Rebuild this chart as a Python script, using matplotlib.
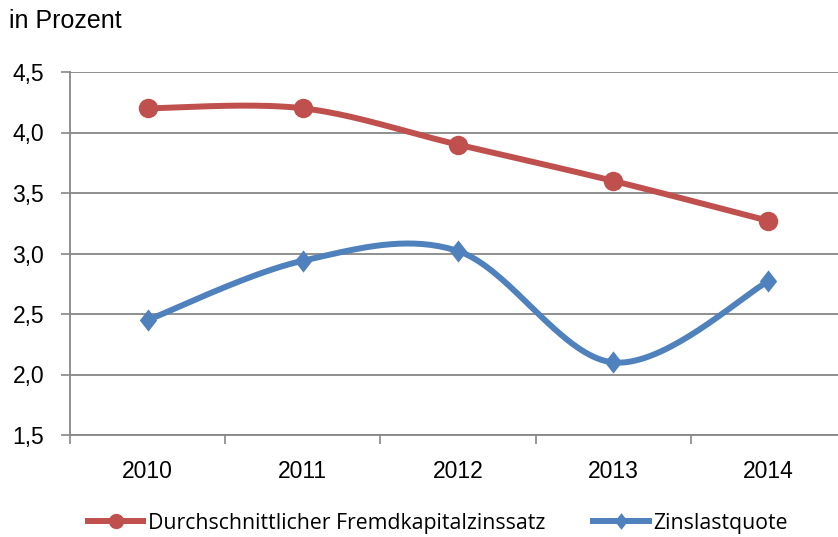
import numpy as np
import matplotlib
matplotlib.use("Agg")
import matplotlib.pyplot as plt
from matplotlib.lines import Line2D
from matplotlib.path import Path

years = ["2010", "2011", "2012", "2013", "2014"]
fremdkapital = [4.2, 4.2, 3.9, 3.6, 3.27]
zinslast = [2.45, 2.94, 3.02, 2.10, 2.77]
y_ticks = [1.5, 2.0, 2.5, 3.0, 3.5, 4.0, 4.5]
y_labels = ["1,5", "2,0", "2,5", "3,0", "3,5", "4,0", "4,5"]
series_names = ["Durchschnittlicher Fremdkapitalzinssatz", "Zinslastquote"]

RED = "#C0504D"
BLUE = "#4F81BD"
GRID = "#878787"

diamond = Path([(0, 1), (0.78, 0), (0, -1), (-0.78, 0), (0, 1)],
               [Path.MOVETO, Path.LINETO, Path.LINETO, Path.LINETO, Path.CLOSEPOLY])


def smooth(xs, ys, n=40):
    xs = np.asarray(xs, float)
    ys = np.asarray(ys, float)
    px = np.concatenate([[xs[0]], xs, [xs[-1]]])
    py = np.concatenate([[ys[0]], ys, [ys[-1]]])
    outx, outy = [], []
    t = np.linspace(0, 1, n)
    for i in range(1, len(xs)):
        p0x, p1x, p2x, p3x = px[i - 1], px[i], px[i + 1], px[i + 2]
        p0y, p1y, p2y, p3y = py[i - 1], py[i], py[i + 1], py[i + 2]
        c1x = p1x + (p2x - p0x) / 6
        c1y = p1y + (p2y - p0y) / 6
        c2x = p2x - (p3x - p1x) / 6
        c2y = p2y - (p3y - p1y) / 6
        bx = (1 - t) ** 3 * p1x + 3 * (1 - t) ** 2 * t * c1x + 3 * (1 - t) * t ** 2 * c2x + t ** 3 * p2x
        by = (1 - t) ** 3 * p1y + 3 * (1 - t) ** 2 * t * c1y + 3 * (1 - t) * t ** 2 * c2y + t ** 3 * p2y
        outx.extend(bx)
        outy.extend(by)
    return np.array(outx), np.array(outy)


fig = plt.figure(figsize=(8.38, 5.37), dpi=100)
W, H = 838, 537
ax = fig.add_axes([70 / W, 1 - 435 / H, 776 / W, (435 - 72) / H])

x = np.arange(len(years))
for vals, col, mk, ms in [(fremdkapital, RED, "o", 14), (zinslast, BLUE, diamond, 16)]:
    sx, sy = smooth(x, vals)
    ax.plot(sx, sy, color=col, lw=4.3, solid_capstyle="round", solid_joinstyle="round", zorder=3)
    ax.plot(x, vals, ls="none", marker=mk, ms=ms, color=col, mew=0, zorder=4)

ax.set_xlim(-0.5, 4.5)
ax.set_ylim(1.5, 4.5)
ax.set_yticks(y_ticks)
ax.set_yticklabels(y_labels)
ax.set_xticks(x)
ax.set_xticklabels(years)
ax.set_xticks(np.arange(-0.5, 5.0, 1.0), minor=True)
ax.tick_params(axis="x", which="major", length=0, pad=18)
ax.tick_params(axis="x", which="minor", length=6.5, color=GRID, width=1.2, direction="out")
ax.tick_params(axis="y", length=6.5, color=GRID, width=1.2, direction="out", pad=12)
for lab in ax.get_xticklabels() + ax.get_yticklabels():
    lab.set_fontfamily("Liberation Sans")
    lab.set_fontsize(16.5)
ax.grid(axis="y", color=GRID, lw=1.3)
ax.set_axisbelow(True)
for s in ["top", "right"]:
    ax.spines[s].set_visible(False)
ax.spines["left"].set_color(GRID)
ax.spines["bottom"].set_color(GRID)
ax.spines["left"].set_linewidth(1.3)
ax.spines["bottom"].set_linewidth(1.3)

fig.text(9 / W, 1 - 21 / H, "in Prozent", fontsize=18, family="Liberation Sans", va="center", ha="left")

handles = [
    Line2D([], [], color=RED, lw=4.3, marker="o", ms=11, mew=0),
    Line2D([], [], color=BLUE, lw=4.3, marker=diamond, ms=12, mew=0),
]
fig.legend(handles, series_names, loc="center", bbox_to_anchor=(438 / W, 1 - 523 / H),
           ncol=2, frameon=False, handlelength=2.6, handletextpad=0.22, columnspacing=2.25,
           borderaxespad=0, borderpad=0,
           prop={"family": "Open Sans", "size": 15.3})

fig.savefig("out.png", dpi=100)
